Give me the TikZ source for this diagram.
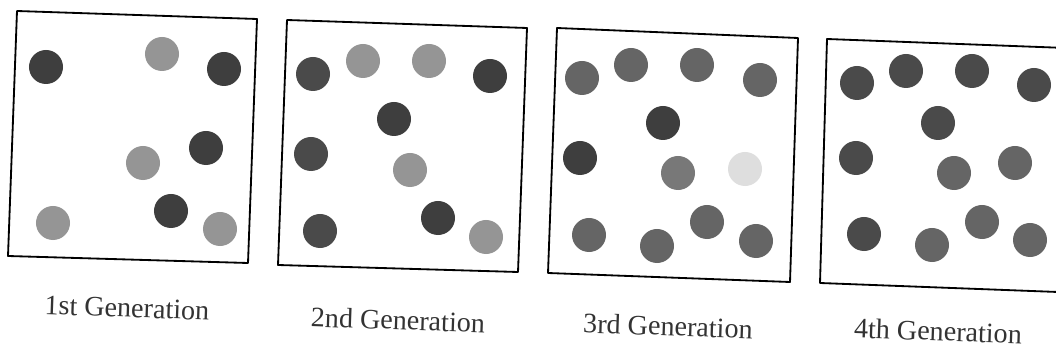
\documentclass[tikz,border=0pt]{standalone}
\usepackage{fontspec}
\setmainfont{Liberation Serif}
\usetikzlibrary{positioning}
\definecolor{cdark}{HTML}{3E3E3E}
\definecolor{cdeep}{HTML}{4A4A4A}
\definecolor{cmid}{HTML}{656565}
\definecolor{clight}{HTML}{959595}
\definecolor{cspeck}{HTML}{787878}
\definecolor{cghost}{HTML}{DEDEDE}
\definecolor{cink}{HTML}{333333}
\tikzset{
  every picture/.style={line width=1.3pt},
  frame/.style={draw=black, line join=round},
  dot/.style={circle, fill=#1, minimum size=0.85cm, inner sep=0pt},
  dot/.default=cdark,
  caption/.style={font=\fontsize{20}{24}\selectfont, text=cink, rotate=-2},
}

\begin{document}
\begin{tikzpicture}[x=0.025cm, y=-0.025cm]
  \useasboundingbox (0,0) rectangle (1056,352);
  \clip (0,0) rectangle (1056,352);

  % 1st generation
  \draw[frame] (17,11) -- (257,19) -- (248,263) -- (8,256) -- cycle;
  \node[dot=cdark]  (g1a) at (46,67) {};
  \node[dot=clight] (g1b) at (162,54) {};
  \node[dot=cdark]  (g1c) at (224,69) {};
  \node[dot=cdark]  (g1d) at (206,148) {};
  \node[dot=clight] (g1e) at (143,163) {};
  \node[dot=cdark]  (g1f) at (171,211) {};
  \node[dot=clight] (g1g) at (53,223) {};
  \node[dot=clight] (g1h) at (220,229) {};
  \node[caption] (cap1) at (127,308) {1st Generation};

  % 2nd generation
  \draw[frame] (287,20) -- (527,28) -- (518,272) -- (278,265) -- cycle;
  \node[dot=cdeep]  (g2a) at (313,74) {};
  \node[dot=clight] (g2b) at (363,61) {};
  \node[dot=clight] (g2c) at (429,61) {};
  \node[dot=cdark]  (g2d) at (490,76) {};
  \node[dot=cdark]  (g2e) at (394,119) {};
  \node[dot=cdeep]  (g2f) at (311,154) {};
  \node[dot=clight] (g2g) at (410,170) {};
  \node[dot=cdeep]  (g2h) at (320,231) {};
  \node[dot=cdark]  (g2i) at (438,218) {};
  \node[dot=clight] (g2j) at (486,237) {};
  \node[caption] (cap2) at (398,320) {2nd Generation};

  % 3rd generation
  \draw[frame] (557,28) -- (798,38) -- (790,282) -- (548,273) -- cycle;
  \node[dot=cmid]   (g3a) at (582,78) {};
  \node[dot=cmid]   (g3b) at (631,65) {};
  \node[dot=cmid]   (g3c) at (697,65) {};
  \node[dot=cmid]   (g3d) at (760,80) {};
  \node[dot=cdark]  (g3e) at (663,123) {};
  \node[dot=cdark]  (g3f) at (580,158) {};
  \node[dot=cspeck] (g3g) at (678,173) {};
  \node[dot=cghost] (g3h) at (745,169) {};
  \node[dot=cmid]   (g3i) at (589,235) {};
  \node[dot=cmid]   (g3j) at (657,246) {};
  \node[dot=cmid]   (g3k) at (707,222) {};
  \node[dot=cmid]   (g3l) at (756,241) {};
  \node[caption] (cap3) at (668,326) {3rd Generation};

  % 4th generation (runs off the right edge)
  \draw[frame] (827,39) -- (1066,48) -- (1058,292) -- (820,283) -- cycle;
  \node[dot=cdeep] (g4a) at (857,83) {};
  \node[dot=cdeep] (g4b) at (906,71) {};
  \node[dot=cdeep] (g4c) at (972,71) {};
  \node[dot=cdeep] (g4d) at (1034,85) {};
  \node[dot=cdeep] (g4e) at (938,123) {};
  \node[dot=cdeep] (g4f) at (856,158) {};
  \node[dot=cmid]  (g4g) at (954,173) {};
  \node[dot=cmid]  (g4h) at (1015,163) {};
  \node[dot=cdeep] (g4i) at (864,234) {};
  \node[dot=cmid]  (g4j) at (932,245) {};
  \node[dot=cmid]  (g4k) at (982,222) {};
  \node[dot=cmid]  (g4l) at (1030,240) {};
  \node[caption] (cap4) at (938,331) {4th Generation};
\end{tikzpicture}
\end{document}
